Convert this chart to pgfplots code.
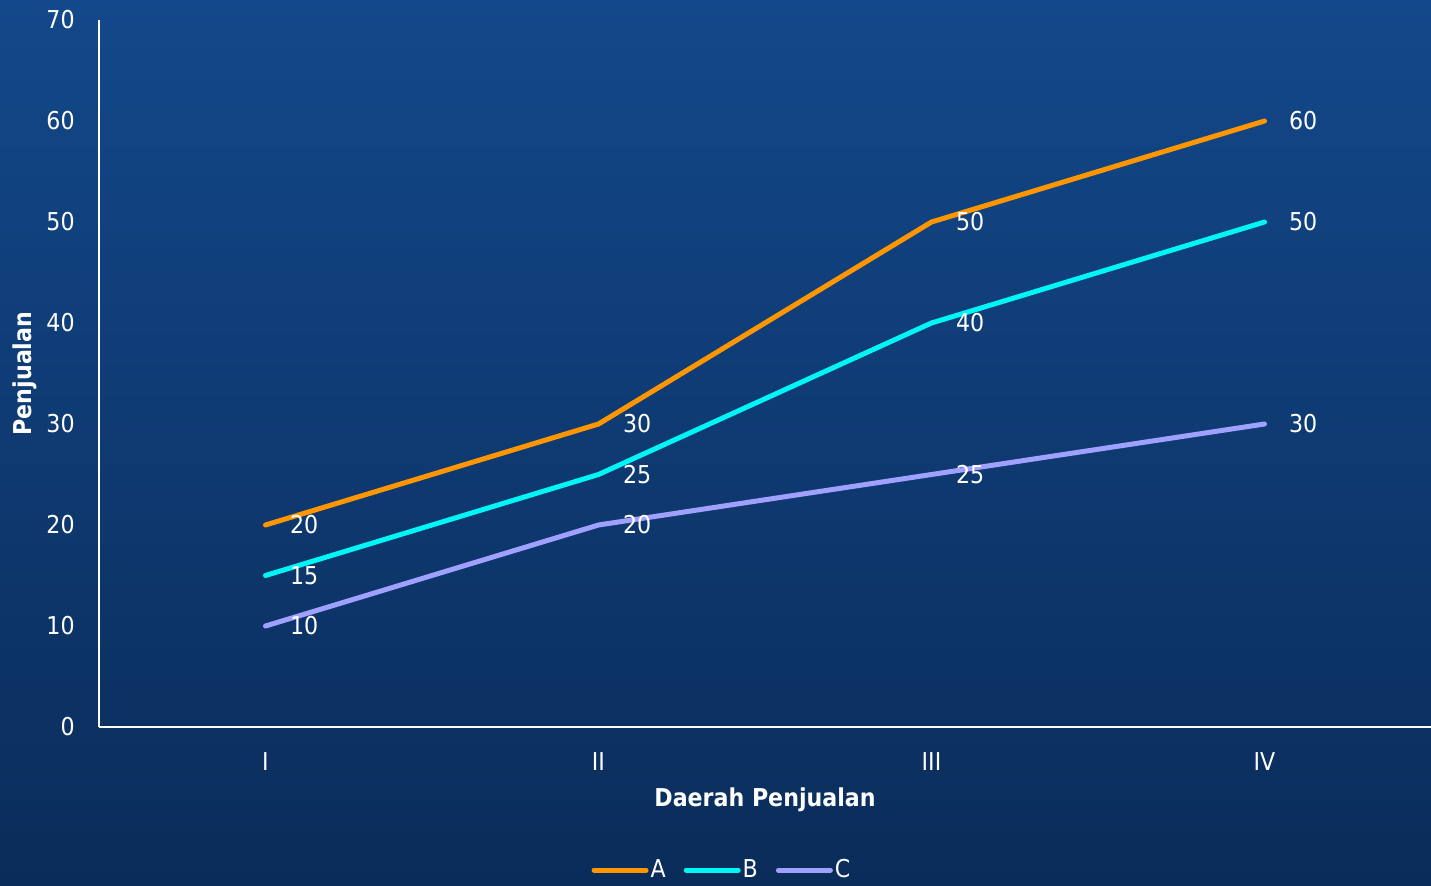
\documentclass[border=0pt]{standalone}
\usepackage{fontspec}
\setmainfont{DejaVu Sans Condensed}
\usepackage{pgfplots}
\pgfplotsset{compat=1.18}

\definecolor{bgtop}{RGB}{19,72,138}
\definecolor{bgmid}{RGB}{14,62,124}
\definecolor{bgbot}{RGB}{10,44,90}
\definecolor{serA}{RGB}{255,150,0}
\definecolor{serB}{RGB}{0,245,245}
\definecolor{serC}{RGB}{160,160,255}

\begin{document}
\begin{tikzpicture}[x=1pt,y=1pt]
  \shade[top color=bgtop, middle color=bgmid, bottom color=bgbot] (0,0) rectangle (715.5,442.5);
  \useasboundingbox (0,0) rectangle (715.5,442.5);
  \begin{axis}[
      at={(49.5pt,79pt)}, anchor=south west,
      scale only axis, width=666pt, height=353.5pt,
      xmin=-0.5, xmax=3.5, ymin=0, ymax=70,
      axis x line=bottom, axis y line=left,
      axis line style={white, line width=1pt, -},
      xtick={0,1,2,3}, xticklabels={I,II,III,IV},
      ytick={0,10,...,70},
      major tick length=0pt,
      font=\fontsize{12.3}{14}\selectfont,
      tick label style={white},
      /pgf/number format/assume math mode=true,
      yticklabel style={anchor=east, inner sep=0pt, xshift=-12pt},
      xticklabel style={anchor=base, inner sep=0pt, yshift=-21.5pt},
      xlabel={\textbf{Daerah Penjualan}},
      ylabel={\textbf{Penjualan}},
      every axis x label/.style={at={(axis description cs:0.5,-0.1033)}, anchor=center, white},
      every axis y label/.style={at={(axis description cs:-0.0556,0.5)}, anchor=center, rotate=90, white},
      nodes near coords,
      every node near coord/.append style={anchor=west, inner sep=0pt, xshift=11pt, white, font=\fontsize{12.3}{14}\selectfont},
      legend columns=-1,
      legend style={at={(axis description cs:0.4677,-0.2023)}, anchor=center,
        draw=none, fill=none, text=white, font=\fontsize{12.3}{14}\selectfont,
        nodes={inner sep=1pt},
        /tikz/every even column/.append style={column sep=8pt}},
      legend image code/.code={\draw[#1, line width=2.5pt, line cap=round] (0pt,0pt) -- (26pt,0pt);},
      every axis plot/.append style={line width=2.5pt, line cap=round, line join=round, mark=none},
    ]
    \addplot[serA] coordinates {(0,20) (1,30) (2,50) (3,60)};
    \addlegendentry{A}
    \addplot[serB] coordinates {(0,15) (1,25) (2,40) (3,50)};
    \addlegendentry{B}
    \addplot[serC] coordinates {(0,10) (1,20) (2,25) (3,30)};
    \addlegendentry{C}
  \end{axis}
\end{tikzpicture}
\end{document}
